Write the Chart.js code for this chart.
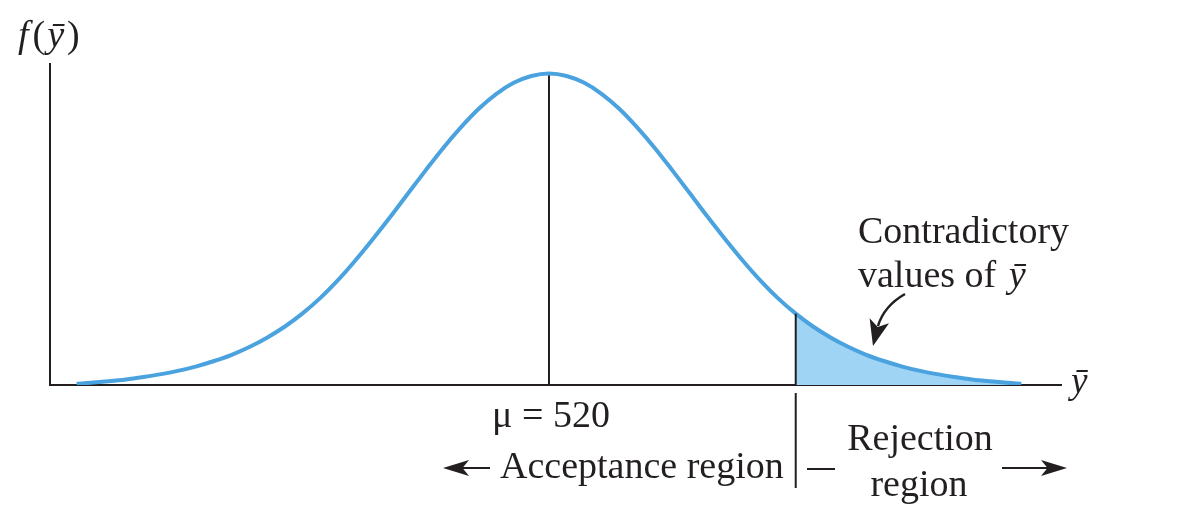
<!DOCTYPE html>
<html>
<head>
<meta charset="utf-8">
<script src="https://cdn.jsdelivr.net/npm/chart.js@4.4.1/dist/chart.umd.min.js"></script>
<style>
  html, body { margin: 0; padding: 0; background: #ffffff; }
  #wrap { width: 1200px; height: 528px; }
</style>
</head>
<body>
<div id="wrap"><canvas id="c" width="1200" height="528"></canvas></div>
<script>
// ---- data ----
const ybarValues = [453, 455, 457.5, 460, 462.5, 465, 467.5, 470, 472.5, 475, 477.5, 480, 482.5, 485, 487.5,
  490, 492.5, 495, 497.5, 500, 502.5, 505, 507.5, 510, 512.5, 515, 517.5, 520,
  522.5, 525, 527.5, 530, 532.5, 535, 537.5, 540, 542.5, 545, 547.5, 550, 552.5, 555,
  557.5, 560, 562.5, 565, 567.5, 570, 572.5, 575, 577.5, 580, 582.5, 585, 587];
const densityValues = [0.004, 0.007, 0.012, 0.018, 0.026, 0.035, 0.046, 0.060, 0.077, 0.097, 0.122, 0.152, 0.187, 0.229, 0.278,
  0.335, 0.399, 0.468, 0.540, 0.615, 0.689, 0.761, 0.827, 0.886, 0.934, 0.970, 0.992, 1.000,
  0.992, 0.970, 0.934, 0.886, 0.827, 0.761, 0.689, 0.615, 0.540, 0.468, 0.399, 0.335, 0.278, 0.229,
  0.187, 0.152, 0.122, 0.097, 0.077, 0.060, 0.046, 0.035, 0.026, 0.018, 0.012, 0.007, 0.004];
const meanValue = 520;
const criticalValue = 555;
const labels = {
  yAxis: ['f', '(', 'ȳ', ')'],
  xAxis: 'ȳ',
  mean: 'μ = 520',
  accept: 'Acceptance region',
  reject1: 'Rejection',
  reject2: 'region',
  note1: 'Contradictory',
  note2a: 'values of',
  note2b: 'ȳ'
};

// ---- build datasets ----
const curveData = ybarValues.map((x, i) => ({ x: x, y: densityValues[i] }));
const tailData = curveData.filter(p => p.x >= criticalValue);
const critDensity = densityValues[ybarValues.indexOf(criticalValue)];
const peakDensity = densityValues[ybarValues.indexOf(meanValue)];

const INK = '#231f20';
const SERIF = '"Liberation Serif", "Times New Roman", serif';

function arrowHead(ctx, tipX, tipY, dirX, dirY, len, half) {
  const n = Math.hypot(dirX, dirY); dirX /= n; dirY /= n;
  const bx = tipX - dirX * len, by = tipY - dirY * len;
  const px = -dirY, py = dirX;
  ctx.beginPath();
  ctx.moveTo(tipX, tipY);
  ctx.lineTo(bx + px * half, by + py * half);
  ctx.lineTo(bx + dirX * len * 0.25, by + dirY * len * 0.25);
  ctx.lineTo(bx - px * half, by - py * half);
  ctx.closePath();
  ctx.fill();
}

const decor = {
  id: 'decor',
  beforeDatasetsDraw(chart) {
    const { ctx, chartArea: a, scales: { x, y } } = chart;
    ctx.save();
    ctx.strokeStyle = INK;
    ctx.lineWidth = 2;
    ctx.beginPath();
    ctx.moveTo(a.left, a.top);
    ctx.lineTo(a.left, a.bottom);
    ctx.lineTo(a.right, a.bottom);
    ctx.stroke();
    const mx = x.getPixelForValue(meanValue);
    ctx.beginPath();
    ctx.moveTo(mx, y.getPixelForValue(0));
    ctx.lineTo(mx, y.getPixelForValue(peakDensity));
    ctx.stroke();
    ctx.restore();
  },
  afterDatasetsDraw(chart) {
    const { ctx, chartArea: a, scales: { x, y } } = chart;
    ctx.save();
    ctx.strokeStyle = INK;
    ctx.fillStyle = INK;
    ctx.lineWidth = 2;
    const cx = x.getPixelForValue(criticalValue);
    ctx.beginPath();
    ctx.moveTo(cx, y.getPixelForValue(0));
    ctx.lineTo(cx, y.getPixelForValue(critDensity));
    ctx.stroke();
    ctx.beginPath();
    ctx.moveTo(cx, a.bottom + 8);
    ctx.lineTo(cx, a.bottom + 103);
    ctx.stroke();

    ctx.textBaseline = 'alphabetic';
    let tx = 18;
    const parts = [['italic', labels.yAxis[0], 4], ['normal', labels.yAxis[1], 2], ['italic', labels.yAxis[2], 3], ['normal', labels.yAxis[3], 0]];
    parts.forEach(([st, s, gap]) => {
      ctx.font = st + ' 38px ' + SERIF;
      ctx.textAlign = 'left';
      ctx.fillText(s, tx, 47);
      tx += ctx.measureText(s).width + gap;
    });
    ctx.font = 'italic 37px ' + SERIF;
    ctx.textAlign = 'left';
    ctx.fillText(labels.xAxis, 1071, 393);

    ctx.font = '38px ' + SERIF;
    ctx.textAlign = 'center';
    ctx.fillText(labels.mean, 551, 427);

    ctx.textAlign = 'left';
    ctx.fillText(labels.accept, 500, 478);
    ctx.lineWidth = 2;
    ctx.beginPath(); ctx.moveTo(462, 468); ctx.lineTo(490, 468); ctx.stroke();
    arrowHead(ctx, 443, 468, -1, 0, 26, 8);

    ctx.textAlign = 'center';
    ctx.fillText(labels.reject1, 920, 450);
    ctx.fillText(labels.reject2, 919, 496);
    ctx.beginPath(); ctx.moveTo(807, 469); ctx.lineTo(835, 469); ctx.stroke();
    ctx.beginPath(); ctx.moveTo(1002, 468); ctx.lineTo(1050, 468); ctx.stroke();
    arrowHead(ctx, 1067, 468, 1, 0, 26, 8);

    ctx.textAlign = 'left';
    ctx.fillText(labels.note1, 858, 243);
    ctx.font = '38px ' + SERIF;
    ctx.fillText(labels.note2a, 858, 287);
    const vw = ctx.measureText(labels.note2a + ' ').width;
    ctx.font = 'italic 38px ' + SERIF;
    ctx.fillText(labels.note2b, 858 + vw + 3, 287);

    ctx.lineWidth = 2.5;
    ctx.beginPath();
    ctx.moveTo(905, 294);
    ctx.quadraticCurveTo(884, 306, 878, 326);
    ctx.stroke();
    arrowHead(ctx, 873, 346, -0.25, 1, 26, 10);
    ctx.restore();
  }
};

new Chart(document.getElementById('c'), {
  type: 'line',
  data: {
    datasets: [
      {
        data: curveData,
        borderColor: '#4aa2df',
        borderWidth: 4,
        pointRadius: 0,
        fill: false,
        cubicInterpolationMode: 'monotone',
        order: 0
      },
      {
        data: tailData,
        borderWidth: 0,
        borderColor: 'rgba(0,0,0,0)',
        backgroundColor: '#9fd4f4',
        pointRadius: 0,
        fill: 'origin',
        cubicInterpolationMode: 'monotone',
        order: 1
      }
    ]
  },
  options: {
    responsive: false,
    animation: false,
    events: [],
    layout: { padding: { left: 50, right: 138, top: 63, bottom: 143 } },
    scales: {
      x: { type: 'linear', min: 449.22, max: 592.77, display: false },
      y: { type: 'linear', min: 0, max: 1.0337, display: false }
    },
    plugins: { legend: { display: false }, tooltip: { enabled: false } }
  },
  plugins: [decor]
});
</script>
</body>
</html>
